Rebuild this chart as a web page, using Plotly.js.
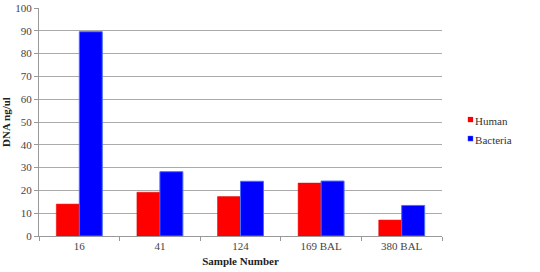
<!DOCTYPE html>
<html><head><meta charset="utf-8">
<script src="https://cdn.plot.ly/plotly-3.0.1.min.js"></script>
<style>html,body{margin:0;padding:0;background:#fff}#c{width:540px;height:272px}</style>
</head><body><div id="c"></div>
<script>
const categories = ["16", "41", "124", "169 BAL", "380 BAL"];
const human = [14, 19.2, 17.3, 23.2, 7];
const bacteria = [89.6, 28.2, 24, 24.1, 13.4];
const seriesNames = ["Human", "Bacteria"];

const serif = "'Liberation Serif', 'Times New Roman', serif";
const font = {family: serif, size: 11, color: "#444"};
const traces = [
  {type: "bar", name: seriesNames[0], x: categories, y: human,
   marker: {color: "#ff0000", line: {color: "#e00000", width: 0.5}}},
  {type: "bar", name: seriesNames[1], x: categories, y: bacteria,
   marker: {color: "#0000ff", line: {color: "#4a6cff", width: 1}}}
];
const layout = {
  width: 540, height: 272,
  margin: {l: 39, r: 95, t: 8, b: 36},
  paper_bgcolor: "#fff", plot_bgcolor: "#fff",
  font: font,
  barmode: "group", bargap: 0.43, bargroupgap: 0,
  showlegend: true,
  legend: {x: 1.02, y: 0.57, xanchor: "left", yanchor: "top",
           font: {family: serif, size: 11, color: "#333"},
           itemwidth: 30, tracegroupgap: 0, traceorder: "normal"},
  xaxis: {
    type: "category",
    showline: true, linecolor: "#999", linewidth: 1,
    ticks: "outside", ticklen: 4, tickcolor: "#999", tickson: "boundaries",
    tickfont: {family: serif, size: 11, color: "#444"},
    title: {text: "<b>Sample Number</b>", font: {family: serif, size: 11, color: "#222"}, standoff: 6}
  },
  yaxis: {
    range: [0, 100], dtick: 10,
    showline: true, linecolor: "#999", linewidth: 1,
    ticks: "outside", ticklen: 4, tickcolor: "#999",
    showgrid: true, gridcolor: "#aaa", gridwidth: 1,
    zeroline: false,
    tickfont: {family: serif, size: 11, color: "#444"},
    title: {text: "<b>DNA ng/ul</b>", font: {family: serif, size: 11, color: "#222"}, standoff: 6}
  }
};
Plotly.newPlot("c", traces, layout, {displayModeBar: false, staticPlot: true}).then(function(gd){
  // shrink legend swatches and pull labels closer, as in the reference
  gd.querySelectorAll(".legend .traces").forEach(function(t){
    var pts = t.querySelector(".legendpoints");
    if (pts) pts.setAttribute("transform", "translate(12,-1) scale(0.42)");
    var txt = t.querySelector("text.legendtext");
    if (txt) txt.setAttribute("x", "25");
  });
});
</script>
</body></html>
